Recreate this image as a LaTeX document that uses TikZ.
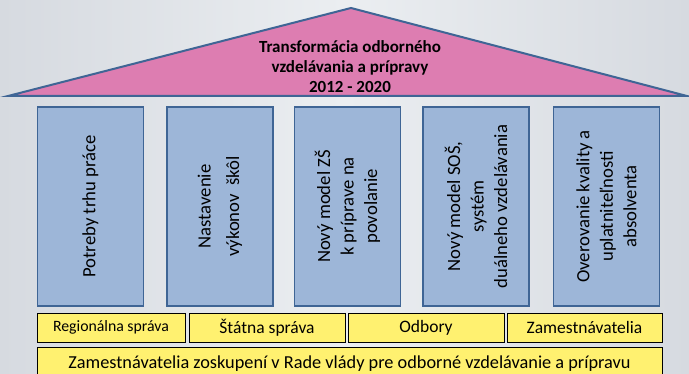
\documentclass[tikz,border=0pt]{standalone}
\usepackage{fontspec}
\setmainfont{Carlito}
\usetikzlibrary{calc}
\definecolor{bgx}{HTML}{EBEEF1}
\definecolor{bge}{HTML}{D6DAE0}
\definecolor{pkx}{HTML}{DD7DB1}
\definecolor{blx}{HTML}{9DB6D8}
\definecolor{bdx}{HTML}{3F6595}
\definecolor{ylx}{HTML}{FFF170}

\tikzset{
    pillar/.style={draw=bdx,line width=1.6pt,fill=blx,rotate=90,
        minimum width=199pt,minimum height=106pt,inner sep=0pt,
        align=center,font=\fontsize{18.7}{23.5}\selectfont},
    plank/.style={draw=black,line width=0.8pt,fill=ylx,
        minimum height=29pt,inner sep=0pt,font=\fontsize{17.5}{20}\selectfont}
}

\begin{document}
\begin{tikzpicture}[x=1pt,y=-1pt]
    \useasboundingbox (0,0) rectangle (689,374);
    \clip (0,0) rectangle (689,374);
    \shade [left color=bge,right color=bge,middle color=bgx] (0,0) rectangle (689,374);

    % roof
    \filldraw [draw=bdx,line width=2pt,fill=pkx,line join=miter]
        (8,96) -- (351,8) -- (687,96) -- cycle;
    \node (roof) [align=center,font=\bfseries\fontsize{17}{20}\selectfont] at (350,67)
        {Transformácia odborného\\vzdelávania a prípravy\\2012 - 2020};

    % pillars
    \node (p1) [pillar] at (90.5,206.5) {Potreby trhu práce};
    \node (p2) [pillar] at (220,206.5) {Nastavenie\\[5pt]výkonov~~škôl};
    \node (p3) [pillar] at (347.5,206.5) {Nový model ZŠ\\k príprave na\\povolanie};
    \node (p4) [pillar] at (476,206.5) {Nový model SOŠ,\\systém\\duálneho vzdelávania};
    \node (p5) [pillar] at (606.5,206.5) {Overovanie kvality a\\uplatniteľnosti\\absolventa};

    % base
    \node (b1) [plank,minimum width=148pt,font=\fontsize{15.8}{18}\selectfont] at (111,327.5) {Regionálna správa};
    \node (b2) [plank,minimum width=156pt] at (267,327.5) {Štátna správa};
    \node (b3) [plank,minimum width=156pt] at (426,327.5) {Odbory};
    \node (b4) [plank,minimum width=155pt] at (584.5,327.5) {Zamestnávatelia};
    \node (b5) [plank,minimum width=625pt,minimum height=34pt,font=\fontsize{18.3}{21}\selectfont] at (349.5,364)
        {Zamestnávatelia zoskupení v Rade vlády pre odborné vzdelávanie a prípravu};
\end{tikzpicture}
\end{document}
